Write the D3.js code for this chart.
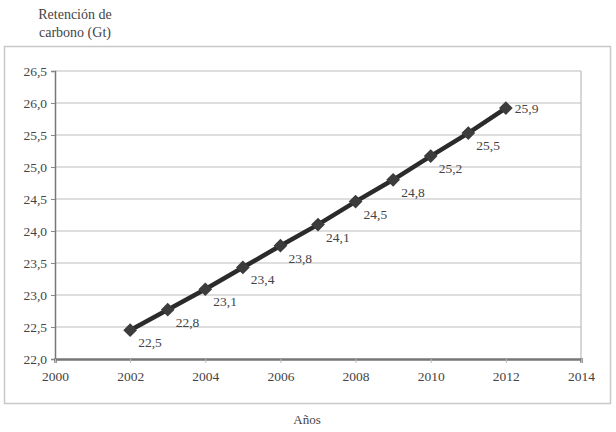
<!DOCTYPE html>
<html>
<head>
<meta charset="utf-8">
<script src="https://cdn.jsdelivr.net/npm/d3@7"></script>
<style>
  body { margin: 0; background: #fff; }
  svg text { font-family: "Liberation Serif" !important; }
</style>
</head>
<body>
<div id="chart"></div>
<script>
// carbon retention per year
const years = [2002, 2003, 2004, 2005, 2006, 2007, 2008, 2009, 2010, 2011, 2012];
const values = [22.45, 22.77, 23.09, 23.43, 23.77, 24.1, 24.46, 24.8, 25.17, 25.53, 25.92];
const labels = ["22,5", "22,8", "23,1", "23,4", "23,8", "24,1", "24,5", "24,8", "25,2", "25,5", "25,9"];
const xTicks = [2000, 2002, 2004, 2006, 2008, 2010, 2012, 2014];
const yTicks = [22.0, 22.5, 23.0, 23.5, 24.0, 24.5, 25.0, 25.5, 26.0, 26.5];

const FONT = '"Liberation Serif"';
const TXT = "#444";

const W = 616, H = 432;
const margin = { top: 71, right: 35, bottom: 73, left: 55 };
const width = W - margin.left - margin.right,
  height = H - margin.top - margin.bottom;

const svg = d3.select("#chart").append("svg")
  .attr("width", W)
  .attr("height", H);

// outer frame
svg.append("rect")
  .attr("x", 4.5).attr("y", 46.5)
  .attr("width", 606).attr("height", 357)
  .attr("fill", "none").attr("stroke", "#c8c8c8").attr("stroke-width", 1.5);

const g = svg.append("g")
  .attr("transform", `translate(${margin.left},${margin.top})`);

const x = d3.scaleLinear().domain([2000, 2014]).range([0, width]);
const y = d3.scaleLinear().domain([22, 26.5]).range([height, 0]);

// gridlines
g.selectAll(".grid")
  .data(yTicks.slice(1))
  .enter().append("line")
  .attr("x1", 0).attr("x2", width)
  .attr("y1", d => y(d)).attr("y2", d => y(d))
  .attr("stroke", "#bdbdbd").attr("stroke-width", 1.2);

// right border of plot
g.append("line")
  .attr("x1", width).attr("x2", width).attr("y1", 0).attr("y2", height)
  .attr("stroke", "#bdbdbd").attr("stroke-width", 1.2);

const fmt = d3.format(".1f");

// y axis
const yAxis = g.append("g")
  .call(d3.axisLeft(y).tickValues(yTicks).tickSize(4).tickPadding(4)
    .tickFormat(d => fmt(d).replace(".", ",")));
yAxis.attr("font-family", "Liberation Serif");
yAxis.select(".domain").attr("stroke", "#777").attr("stroke-width", 1.5);
yAxis.selectAll(".tick line").attr("stroke", "#888");
yAxis.selectAll("text").style("font-size", "13.5px").style("font-family", FONT).attr("fill", TXT);

// x axis
const xAxis = g.append("g")
  .attr("transform", `translate(0,${height})`)
  .call(d3.axisBottom(x).tickValues(xTicks).tickSize(4).tickPadding(8)
    .tickFormat(d3.format("d")));
xAxis.attr("font-family", "Liberation Serif");
xAxis.select(".domain").attr("stroke", "#777").attr("stroke-width", 2.5);
xAxis.selectAll(".tick line").attr("stroke", "#bbb");
xAxis.selectAll("text").style("font-size", "13.5px").style("font-family", FONT).attr("fill", TXT);

const data = years.map((yr, i) => ({ x: yr, v: values[i], label: labels[i] }));

// the line
g.append("path")
  .datum(data)
  .attr("fill", "none")
  .attr("stroke", "#2b2b2b")
  .attr("stroke-width", 4.5)
  .attr("d", d3.line().x(d => x(d.x)).y(d => y(d.v)));

// diamond markers
g.selectAll(".pt")
  .data(data)
  .enter().append("path")
  .attr("transform", d => `translate(${x(d.x)},${y(d.v)})`)
  .attr("d", d3.symbol().type(d3.symbolDiamond2).size(120))
  .attr("fill", "#3c3c3c");

// value labels: below-right, last one to the right
const last = data.length - 1;
g.selectAll(".lbl")
  .data(data)
  .enter().append("text")
  .attr("x", (d, i) => x(d.x) + (i === last ? 9 : 8))
  .attr("y", (d, i) => y(d.v) + (i === last ? 5 : 17))
  .attr("fill", TXT)
  .attr("font-family", "Liberation Serif")
  .style("font-size", "13.5px")
  .text(d => d.label);

// titles
svg.append("text")
  .attr("x", 75).attr("y", 19)
  .attr("text-anchor", "middle")
  .attr("fill", TXT)
  .attr("font-family", "Liberation Serif")
  .style("font-size", "14px")
  .text("Retención de");
svg.append("text")
  .attr("x", 75).attr("y", 37)
  .attr("text-anchor", "middle")
  .attr("fill", TXT)
  .attr("font-family", "Liberation Serif")
  .style("font-size", "14px")
  .text("carbono (Gt)");

svg.append("text")
  .attr("x", 307).attr("y", 424)
  .attr("text-anchor", "middle")
  .attr("fill", TXT)
  .attr("font-family", "Liberation Serif")
  .style("font-size", "13px")
  .text("Años");
</script>
</body>
</html>
